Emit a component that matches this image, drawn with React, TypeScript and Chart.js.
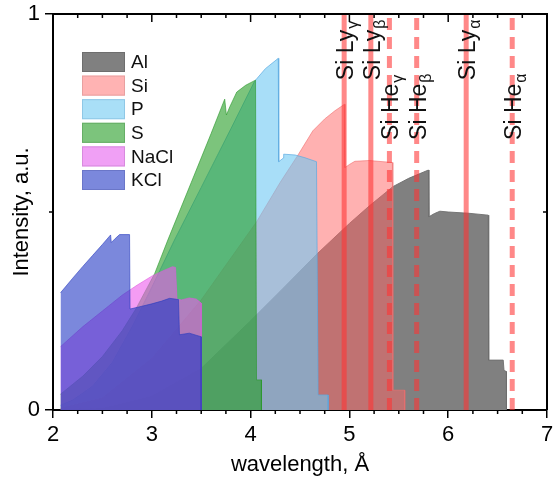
import React, { useEffect, useRef } from 'react';
import { Chart, registerables } from 'chart.js';

Chart.register(...registerables);

// ---------- data ----------
const elementNames = ['Al', 'Si', 'P', 'S', 'NaCl', 'KCl'];

const alX = [2.076, 2.5, 3.0, 3.5, 3.99, 4.3, 4.68, 5.0, 5.2, 5.44, 5.6, 5.8, 5.805, 5.86, 5.916, 6.0, 6.2, 6.405, 6.41, 6.557, 6.565, 6.59, 6.59];
const alY = [0.0, 0.004, 0.035, 0.105, 0.223, 0.3, 0.396, 0.471, 0.515, 0.564, 0.585, 0.606, 0.488, 0.496, 0.502, 0.5, 0.497, 0.492, 0.126, 0.126, 0.1, 0.097, 0];

const siX = [2.076, 2.5, 3.0, 3.5, 4.06, 4.3, 4.48, 4.63, 4.75, 4.85, 4.95, 4.955, 5.0, 5.055, 5.2, 5.435, 5.44, 5.56, 5.56];
const siY = [0.004, 0.03, 0.13, 0.278, 0.475, 0.575, 0.644, 0.705, 0.735, 0.755, 0.772, 0.612, 0.62, 0.628, 0.63, 0.625, 0.05, 0.05, 0];

const pX = [2.076, 2.2, 2.4, 2.6, 2.8, 3.0, 3.229, 3.5, 3.8, 4.04, 4.15, 4.28, 4.285, 4.33, 4.335, 4.45, 4.55, 4.667, 4.683, 4.785, 4.785];
const pY = [0.012, 0.025, 0.06, 0.12, 0.21, 0.31, 0.429, 0.562, 0.71, 0.83, 0.862, 0.888, 0.627, 0.636, 0.646, 0.644, 0.637, 0.627, 0.038, 0.038, 0];

const sX = [2.076, 2.3, 2.5, 2.7, 2.843, 3.03, 3.162, 3.4, 3.6, 3.738, 3.755, 3.79, 3.86, 3.95, 4.05, 4.06, 4.11, 4.11];
const sY = [0.04, 0.085, 0.135, 0.2, 0.257, 0.345, 0.429, 0.575, 0.698, 0.785, 0.745, 0.766, 0.803, 0.82, 0.833, 0.076, 0.076, 0];

const naclX = [2.076, 2.3, 2.5, 2.7, 2.85, 3.0, 3.1, 3.21, 3.24, 3.255, 3.3, 3.38, 3.45, 3.5, 3.5];
const naclY = [0.16, 0.21, 0.25, 0.29, 0.315, 0.338, 0.35, 0.362, 0.36, 0.28, 0.278, 0.283, 0.28, 0.27, 0];

const kclX = [2.076, 2.2, 2.3, 2.4, 2.5, 2.583, 2.59, 2.63, 2.674, 2.775, 2.78, 2.9, 3.0, 3.1, 3.18, 3.27, 3.28, 3.38, 3.5, 3.5];
const kclY = [0.296, 0.333, 0.362, 0.39, 0.418, 0.442, 0.423, 0.433, 0.443, 0.443, 0.255, 0.262, 0.268, 0.275, 0.282, 0.279, 0.19, 0.194, 0.185, 0];

// spectral lines
const lineX = [4.947, 5.217, 5.405, 5.681, 6.182, 6.648];
const lineDashed = [false, false, true, true, false, true];
const lineMain = ['Si Ly', 'Si Ly', 'Si He', 'Si He', 'Si Ly', 'Si He'];
const lineSub = ['γ', 'β', 'γ', 'β', 'α', 'α'];
const labelStartY = [0.833, 0.833, 0.682, 0.682, 0.833, 0.682];

// axes
const xTicks = [2, 3, 4, 5, 6, 7];
const yTicks = [0, 1];

// ---------- styles ----------
const fills = [
  'rgb(128,128,128)',
  'rgba(255,100,100,0.5)',
  'rgba(110,200,243,0.6)',
  'rgba(37,157,37,0.6)',
  'rgba(237,90,237,0.6)',
  'rgba(35,57,197,0.6)',
];
const borders = [
  'rgba(110,110,110,0.9)',
  'rgba(240,110,110,0.6)',
  'rgba(90,170,225,0.7)',
  'rgba(40,150,40,0.6)',
  'rgba(220,90,220,0.6)',
  'rgba(40,60,190,0.6)',
];
const legendColors = ['#808080', '#ffb3b3', '#a9dff7', '#7cc47c', '#f0a0f5', '#7b88dc'];
const legendBorders = ['#6e6e6e', '#e8a0a0', '#8fc8e6', '#66ae66', '#d88ade', '#6a76c8'];

const FONT = '"Liberation Sans", Arial, sans-serif';

function pts(xs: number[], ys: number[]) {
  return xs.map((x, i) => ({ x, y: ys[i] }));
}

const decorPlugin = {
  id: 'decor',
  afterDatasetsDraw(chart: any) {
    const { ctx, chartArea, scales } = chart;
    const xs = scales.x;
    const ys = scales.y;
    ctx.save();
    ctx.beginPath();
    ctx.rect(chartArea.left, chartArea.top, chartArea.right - chartArea.left, chartArea.bottom - chartArea.top);
    ctx.clip();
    lineX.forEach((lx, i) => {
      const px = xs.getPixelForValue(lx);
      ctx.beginPath();
      ctx.strokeStyle = 'rgba(255,50,50,0.58)';
      ctx.lineWidth = 5;
      ctx.setLineDash(lineDashed[i] ? [12, 7] : []);
      ctx.moveTo(px, ys.getPixelForValue(0));
      ctx.lineTo(px, ys.getPixelForValue(1));
      ctx.stroke();
    });
    ctx.setLineDash([]);
    ctx.restore();

    ctx.save();
    ctx.fillStyle = '#111';
    lineX.forEach((lx, i) => {
      const px = xs.getPixelForValue(lx);
      const py = ys.getPixelForValue(labelStartY[i]);
      ctx.save();
      ctx.translate(px + 9, py);
      ctx.rotate(-Math.PI / 2);
      ctx.textAlign = 'left';
      ctx.textBaseline = 'alphabetic';
      ctx.font = '23px ' + FONT;
      ctx.fillText(lineMain[i], 0, 0);
      const w = ctx.measureText(lineMain[i]).width;
      ctx.font = '16px ' + FONT;
      ctx.fillText(lineSub[i], w + 1, 5);
      ctx.restore();
    });
    ctx.restore();

    ctx.save();
    const lx0 = chartArea.left + 29;
    const ly0 = chartArea.top + 38;
    const rowH = 23.6;
    elementNames.forEach((name, i) => {
      const y = ly0 + i * rowH;
      ctx.fillStyle = legendColors[i];
      ctx.fillRect(lx0, y, 43, 20);
      ctx.strokeStyle = legendBorders[i];
      ctx.lineWidth = 1;
      ctx.strokeRect(lx0 + 0.5, y + 0.5, 42, 19);
      ctx.fillStyle = '#111';
      ctx.font = '19px ' + FONT;
      ctx.textAlign = 'left';
      ctx.textBaseline = 'middle';
      ctx.fillText(name, lx0 + 49, y + 11);
    });
    ctx.restore();
  },
  afterDraw(chart: any) {
    const { ctx, chartArea, scales } = chart;
    const xs = scales.x;
    const ys = scales.y;
    const { left, right, top, bottom } = chartArea;
    ctx.save();
    ctx.strokeStyle = '#000';
    ctx.lineWidth = 2;
    ctx.beginPath();
    ctx.moveTo(left, top);
    ctx.lineTo(right, top);
    ctx.lineTo(right, bottom);
    ctx.stroke();
    ctx.lineWidth = 1.5;
    for (let v = 2; v <= 7.0001; v += 0.25) {
      const px = xs.getPixelForValue(v);
      const major = Math.abs(v - Math.round(v)) < 1e-6;
      ctx.beginPath();
      if (!major) {
        ctx.moveTo(px, bottom);
        ctx.lineTo(px, bottom + 4);
      }
      ctx.moveTo(px, top);
      ctx.lineTo(px, top + (major ? 8 : 4));
      ctx.stroke();
    }
    for (let v = 0; v <= 1.0001; v += 0.5) {
      const py = ys.getPixelForValue(v);
      const major = Math.abs(v - Math.round(v)) < 1e-6;
      ctx.beginPath();
      if (!major) {
        ctx.moveTo(left - 4, py);
        ctx.lineTo(left, py);
      }
      ctx.moveTo(right, py);
      ctx.lineTo(right - (major ? 8 : 4), py);
      ctx.stroke();
    }
    ctx.restore();
  },
};

export default function App() {
  const ref = useRef<HTMLCanvasElement | null>(null);

  useEffect(() => {
    if (!ref.current) return;
    const series = [
      [alX, alY],
      [siX, siY],
      [pX, pY],
      [sX, sY],
      [naclX, naclY],
      [kclX, kclY],
    ];
    const datasets = series.map(([xs, ys], i) => ({
      label: elementNames[i],
      data: pts(xs as number[], ys as number[]),
      backgroundColor: fills[i],
      borderColor: borders[i],
      borderWidth: 1,
      pointRadius: 0,
      tension: 0,
      fill: 'origin',
      order: 6 - i,
    }));

    const chart = new Chart(ref.current, {
      type: 'line',
      data: { datasets },
      options: {
        responsive: false,
        animation: false,
        layout: { padding: { top: 14, right: 7, left: 0, bottom: 0 } },
        plugins: { legend: { display: false }, tooltip: { enabled: false } },
        scales: {
          x: {
            type: 'linear',
            min: 2,
            max: 7,
            afterBuildTicks: (s: any) => {
              s.ticks = xTicks.map((v) => ({ value: v }));
            },
            ticks: {
              font: { size: 22, family: FONT },
              color: '#000',
              padding: 4,
              maxRotation: 0,
              callback: (v: any) => String(v),
            },
            grid: {
              display: true,
              drawOnChartArea: false,
              drawTicks: true,
              tickLength: 8,
              color: '#000',
              lineWidth: 1.5,
            },
            border: { display: true, color: '#000', width: 2 },
            title: {
              display: true,
              text: 'wavelength, Å',
              color: '#000',
              font: { size: 22, family: FONT },
              padding: { top: 0, bottom: 1 },
            },
            afterFit: (s: any) => {
              s.height = 69;
              s.paddingLeft = 0;
              s.paddingRight = 0;
            },
          },
          y: {
            type: 'linear',
            min: 0,
            max: 1,
            afterBuildTicks: (s: any) => {
              s.ticks = yTicks.map((v) => ({ value: v }));
            },
            ticks: {
              font: { size: 22, family: FONT },
              color: '#000',
              padding: 5,
              callback: (v: any) => String(v),
            },
            grid: {
              display: true,
              drawOnChartArea: false,
              drawTicks: true,
              tickLength: 8,
              color: '#000',
              lineWidth: 1.5,
            },
            border: { display: true, color: '#000', width: 2 },
            title: {
              display: true,
              text: 'Intensity, a.u.',
              color: '#000',
              font: { size: 22, family: FONT },
              padding: { top: 9, bottom: 0 },
            },
            afterFit: (s: any) => {
              s.width = 53;
              s.paddingTop = 0;
              s.paddingBottom = 0;
            },
          },
        },
      },
      plugins: [decorPlugin],
    } as any);

    return () => chart.destroy();
  }, []);

  return (
    <div style={{ position: 'fixed', left: 0, top: 0, width: 554, height: 479, background: '#fff' }}>
      <canvas ref={ref} width={554} height={479} style={{ width: 554, height: 479, display: 'block' }} />
    </div>
  );
}
